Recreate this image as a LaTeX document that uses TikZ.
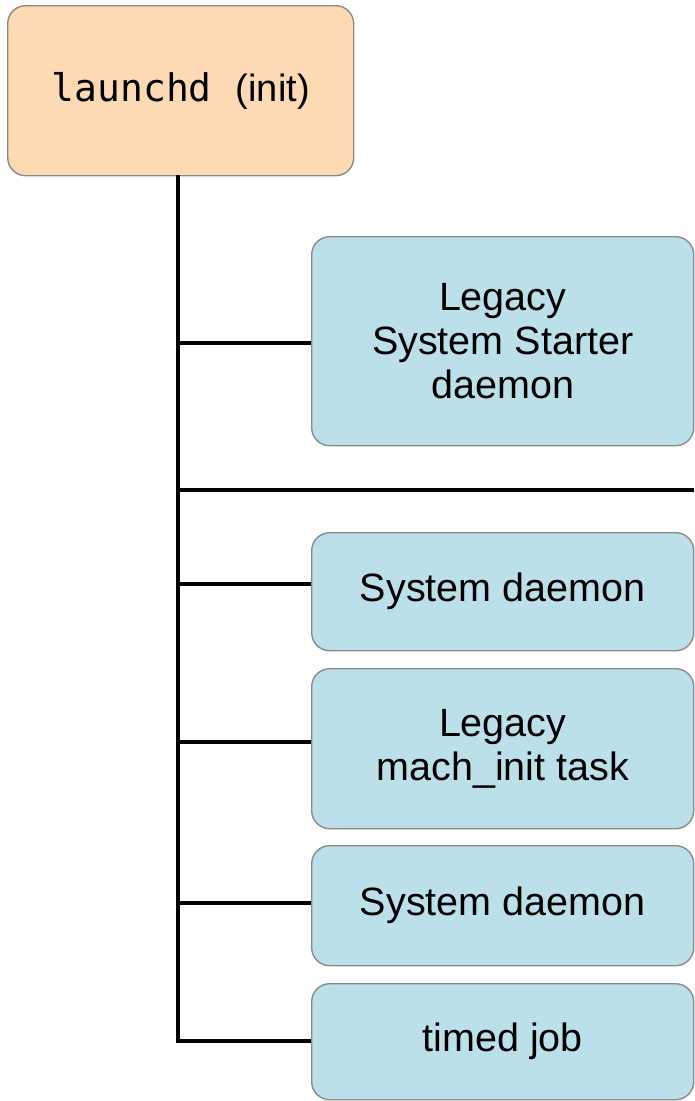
\documentclass[tikz,border=0pt]{standalone}
\usepackage{fontspec}
\setmainfont{Liberation Sans}
\setmonofont{DejaVu Sans Mono}
\begin{document}
\begin{tikzpicture}[x=1pt,y=1pt,
  box/.style={draw=boxborder, line width=1.4pt, rounded corners=18pt, fill=#1,
    inner sep=0pt, anchor=north west, align=center,
    font=\fontsize{39.5}{44}\selectfont},
  conn/.style={line width=3.2pt, black}]
\definecolor{boxborder}{HTML}{8A8A8A}
\definecolor{peach}{HTML}{FDD9B4}
\definecolor{lblue}{HTML}{BBE0EA}
\useasboundingbox (0,0) rectangle (694,-1101);
\node[box=peach, minimum width=346pt, minimum height=170pt] (launchd) at (7,-5)
  {{\ttfamily\fontsize{38}{44}\selectfont launchd}\hspace{24pt}{\fontsize{38}{44}\selectfont(init)}};
\node[box=lblue, minimum width=382pt, minimum height=209pt] (b1) at (311,-236)
  {Legacy\\System Starter\\daemon};
\node[box=lblue, minimum width=382pt, minimum height=118pt] (b2) at (311,-532)
  {System daemon};
\node[box=lblue, minimum width=382pt, minimum height=160pt] (b3) at (311,-668)
  {Legacy\\mach\_init task};
\node[box=lblue, minimum width=382pt, minimum height=120pt] (b4) at (311,-845)
  {System daemon};
\node[box=lblue, minimum width=382pt, minimum height=116pt] (b5) at (311,-983)
  {timed job};
\coordinate (top) at (178,-175);
\coordinate (c1) at (178,-343);
\coordinate (sep) at (178,-490);
\coordinate (sepend) at (694,-490);
\coordinate (c2) at (178,-584);
\coordinate (c3) at (178,-742);
\coordinate (c4) at (178,-903);
\coordinate (c5) at (178,-1041);
\draw[conn] (top) -- (c5) -- (c5 -| b5.west);
\draw[conn] (c1) -- (c1 -| b1.west);
\draw[conn] (sep) -- (sepend);
\draw[conn] (c2) -- (c2 -| b2.west);
\draw[conn] (c3) -- (c3 -| b3.west);
\draw[conn] (c4) -- (c4 -| b4.west);
\end{tikzpicture}
\end{document}
